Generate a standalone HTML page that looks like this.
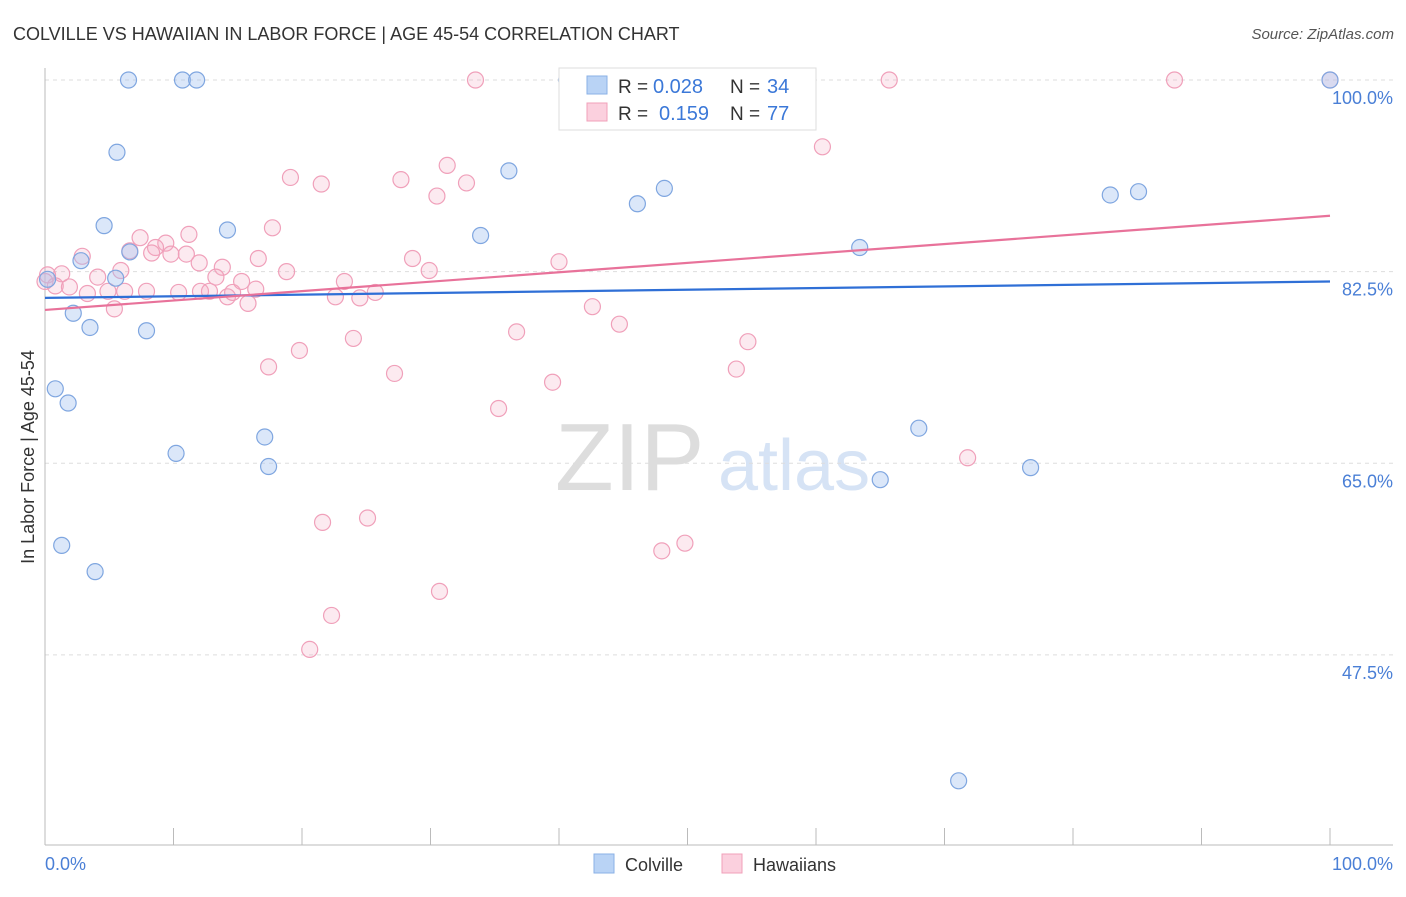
<!DOCTYPE html>
<html><head><meta charset="utf-8"><style>
body{margin:0;background:#fff;font-family:"Liberation Sans",sans-serif;}
svg text{font-family:"Liberation Sans",sans-serif;}
</style></head><body>
<svg id="chart" width="1406" height="892">
<text x="13" y="40" font-size="18" fill="#333">COLVILLE VS HAWAIIAN IN LABOR FORCE | AGE 45-54 CORRELATION CHART</text>
<text x="1394" y="39" font-size="15" fill="#555" text-anchor="end" font-style="italic">Source: ZipAtlas.com</text>
<text x="555" y="490" font-size="96" fill="#ddd" font-family="Liberation Serif">ZIP</text>
<text x="718" y="490" font-size="72" fill="#d6e3f5">atlas</text>
<g id="grid"></g>
<line x1="45" y1="68" x2="45" y2="845" stroke="#bbb"/>
<line x1="45" y1="845" x2="1393" y2="845" stroke="#bbb"/>
<g id="xticks"></g>
<text transform="translate(34,457) rotate(-90)" font-size="18" fill="#333" text-anchor="middle">In Labor Force | Age 45-54</text>
<text x="45" y="870" font-size="18" fill="#4a7fd6">0.0%</text>
<text x="1393" y="870" font-size="18" fill="#4a7fd6" text-anchor="end">100.0%</text>
<g id="pts"></g>
<g id="trends"></g>
<g>
<rect x="559" y="68" width="257" height="62" fill="#fff" stroke="#ddd"/>
<rect x="587" y="76" width="20" height="18" fill="#b9d3f5" stroke="#8ab0e6"/>
<rect x="587" y="103" width="20" height="18" fill="#fbd0de" stroke="#f0a0ba"/>
<text x="618" y="93" font-size="19" fill="#333">R =</text>
<text x="653" y="93" font-size="20" fill="#3b78d8">0.028</text>
<text x="730" y="93" font-size="19" fill="#333">N =</text>
<text x="767" y="93" font-size="20" fill="#3b78d8">34</text>
<text x="618" y="120" font-size="19" fill="#333">R =</text>
<text x="659" y="120" font-size="20" fill="#3b78d8">0.159</text>
<text x="730" y="120" font-size="19" fill="#333">N =</text>
<text x="767" y="120" font-size="20" fill="#3b78d8">77</text>
</g>
<g>
<rect x="594" y="854" width="20" height="19" fill="#b9d3f5" stroke="#8ab0e6"/>
<text x="625" y="871" font-size="18" fill="#333">Colville</text>
<rect x="722" y="854" width="20" height="19" fill="#fbd0de" stroke="#f0a0ba"/>
<text x="753" y="871" font-size="18" fill="#333">Hawaiians</text>
</g>
</svg>
<script>
const yTicks=[100,82.5,65,47.5];
const yTickLabels=["100.0%","82.5%","65.0%","47.5%"];
const colX=[6.5,10.7,11.8,40.6,100,5.6,36.1,48.2,46.1,82.9,85.1,4.6,14.2,33.9,63.4,6.6,2.8,0.2,5.5,2.2,3.5,7.9,0.8,1.8,17.1,10.2,17.4,68.0,65.0,76.7,1.3,3.9,71.1,42.4];
const colY=[100,100,100,100,100,93.4,91.7,90.1,88.7,89.5,89.8,86.7,86.3,85.8,84.7,84.3,83.5,81.8,81.9,78.7,77.4,77.1,71.8,70.5,67.4,65.9,64.7,68.2,63.5,64.6,57.5,55.1,36.0,100];
const hawX=[33.5,65.7,87.9,100,46.1,60.5,31.3,19.1,21.5,27.7,32.8,30.5,17.7,11.2,7.4,9.4,8.6,6.6,2.9,8.3,9.8,11.0,12.0,16.6,13.8,18.8,28.6,29.9,40.0,5.9,4.1,1.3,0.2,0.8,0,1.9,3.3,4.9,6.2,7.9,10.4,12.1,12.8,14.2,14.6,15.3,16.4,13.3,15.8,22.6,23.3,24.5,25.7,5.4,42.6,44.7,36.7,24.0,54.7,19.8,17.4,27.2,53.8,39.5,35.3,71.8,21.6,25.1,49.8,48.0,30.7,22.3,20.6];
const hawY=[100,100,100,100,97.7,93.9,92.2,91.1,90.5,90.9,90.6,89.4,86.5,85.9,85.6,85.1,84.7,84.4,83.9,84.2,84.1,84.1,83.3,83.7,82.9,82.5,83.7,82.6,83.4,82.6,82.0,82.3,82.2,81.2,81.6,81.1,80.5,80.7,80.7,80.7,80.6,80.7,80.7,80.2,80.6,81.6,80.9,82.0,79.6,80.2,81.6,80.1,80.6,79.1,79.3,77.7,77.0,76.4,76.1,75.3,73.8,73.2,73.6,72.4,70.0,65.5,59.6,60.0,57.7,57.0,53.3,51.1,48.0];
const colTrend=[80.1,81.6];
const hawTrend=[79.0,87.6];
const NS="http://www.w3.org/2000/svg";
const xs=v=>45+v*12.85;
const ys=v=>80+(100-v)*10.95;
function mk(t,a,p){const e=document.createElementNS(NS,t);for(const k in a)e.setAttribute(k,a[k]);p.appendChild(e);return e;}
const grid=document.getElementById('grid');
yTicks.forEach((t,i)=>{
 const l=mk('line',{x1:45,x2:1393,y1:ys(t),y2:ys(t),stroke:'#ddd','stroke-dasharray':'4,4'},grid);
 
 
 const tx=mk('text',{x:1393,y:ys(t)+24,'font-size':18,fill:'#4a7fd6','text-anchor':'end'},grid);
 tx.textContent=yTickLabels[i];
 
 
});
const xt=document.getElementById('xticks');
for(let i=0;i<=10;i++){
 const l=mk('line',{x1:xs(i*10),x2:xs(i*10),y1:828,y2:845,stroke:'#bbb'},xt);
 
 
}
const pts=document.getElementById('pts');
hawX.forEach((x,i)=>{
 const c=mk('circle',{cx:xs(x),cy:ys(hawY[i]),r:8,fill:'rgba(245,170,195,0.25)',stroke:'#f0a0ba','stroke-width':1.2},pts);
 
 
});
colX.forEach((x,i)=>{
 const c=mk('circle',{cx:xs(x),cy:ys(colY[i]),r:8,fill:'rgba(164,194,240,0.4)',stroke:'#7fa6e0','stroke-width':1.2},pts);
 
 
});
const tr=document.getElementById('trends');
const t1=mk('line',{x1:xs(0),y1:ys(colTrend[0]),x2:xs(100),y2:ys(colTrend[1]),stroke:'#2f6fd6','stroke-width':2.2},tr);


const t2=mk('line',{x1:xs(0),y1:ys(hawTrend[0]),x2:xs(100),y2:ys(hawTrend[1]),stroke:'#e8729a','stroke-width':2.2},tr);


</script>
</body></html>
